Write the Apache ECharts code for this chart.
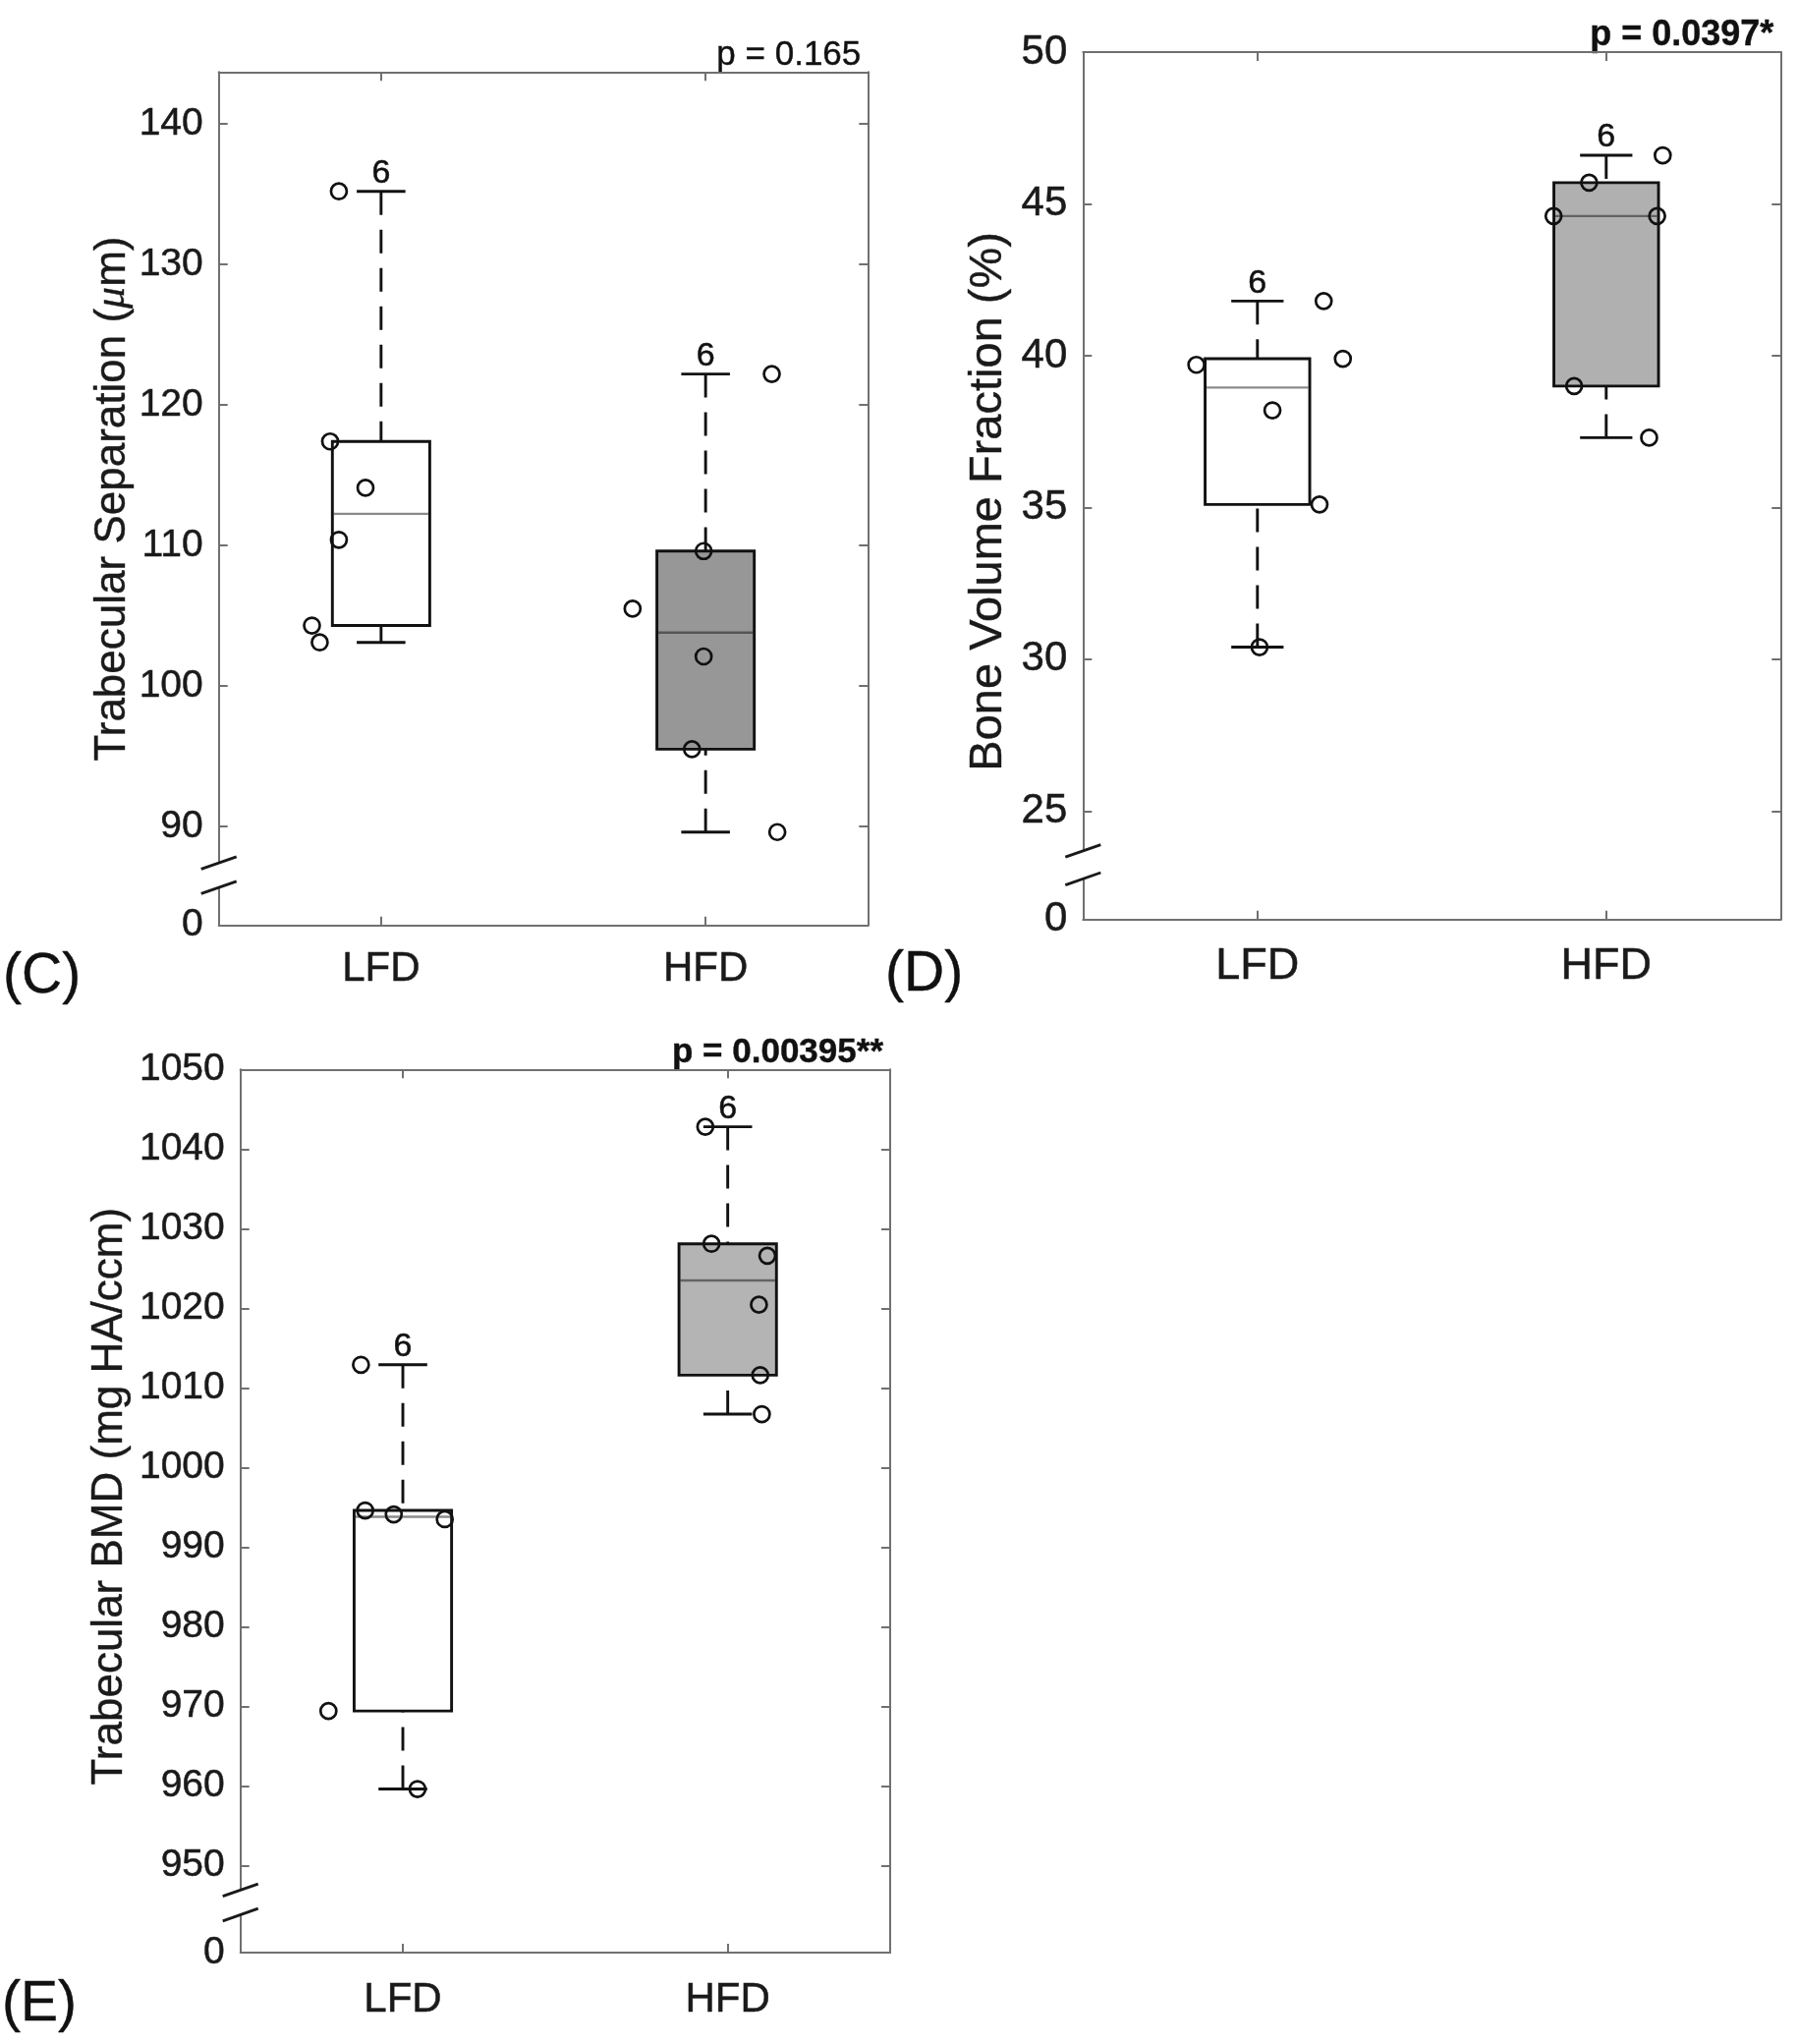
<!DOCTYPE html>
<html>
<head>
<meta charset="utf-8">
<script src="https://cdn.jsdelivr.net/npm/echarts@6/dist/echarts.min.js"></script>
<style>
html,body{margin:0;padding:0;background:#fff;}
#chart{width:1830px;height:2080px;}
</style>
</head>
<body>
<div id="chart"></div>
<script>
// ---------------- DATA ----------------
const categories = ['LFD', 'HFD'];
const groupCounts = [6, 6];

// Panel C : Trabecular Separation (um)
const cLfdValues = [135.2, 117.4, 114.1, 110.4, 104.3, 103.1];
const cLfdJitterX = [0.870, 0.843, 0.952, 0.870, 0.787, 0.811];
const cHfdValues = [122.2, 109.6, 105.5, 102.1, 95.5, 89.6];
const cHfdJitterX = [2.204, 1.994, 1.775, 1.994, 1.958, 2.221];
// [lower whisker, Q1, median, Q3, upper whisker]
const cLfdBox = [103.1, 104.3, 112.25, 117.4, 135.2];
const cHfdBox = [89.6, 95.5, 103.8, 109.6, 122.2];
const cTicks = [90, 100, 110, 120, 130, 140];
const cRange = [82.96, 143.69];
const cBreak = [87.41, 85.66];
const cPText = 'p = 0.165';

// Panel D : Bone Volume Fraction (%)
const dLfdValues = [41.8, 39.9, 39.7, 38.2, 35.1, 30.4];
const dLfdJitterX = [1.190, 1.245, 0.825, 1.043, 1.178, 1.006];
const dHfdValues = [46.6, 45.7, 44.6, 44.6, 39.0, 37.3];
const dHfdJitterX = [2.162, 1.951, 1.849, 2.146, 1.908, 2.123];
const dLfdBox = [30.4, 35.1, 38.95, 39.9, 41.8];
const dHfdBox = [37.3, 39.0, 44.6, 45.7, 46.6];
const dTicks = [25, 30, 35, 40, 45, 50];
const dRange = [21.43, 50];
const dBreak = [23.69, 22.77];
const dPText = 'p = 0.0397*';

// Panel E : Trabecular BMD (mg HA/ccm)
const eLfdValues = [1012.9, 994.6, 994.1, 993.5, 969.4, 959.6];
const eLfdJitterX = [0.871, 0.884, 0.972, 1.129, 0.771, 1.045];
const eHfdValues = [1042.8, 1028.1, 1026.6, 1020.45, 1011.6, 1006.7];
const eHfdJitterX = [1.931, 1.950, 2.122, 2.096, 2.100, 2.105];
const eLfdBox = [959.6, 969.4, 993.8, 994.6, 1012.9];
const eHfdBox = [1006.7, 1011.6, 1023.5, 1028.1, 1042.8];
const eTicks = [950, 960, 970, 980, 990, 1000, 1010, 1020, 1030, 1040, 1050];
const eRange = [939.05, 1050];
const eBreak = [946.9, 943.8];
const ePText = 'p = 0.00395**';

// ---------------- STYLE / LAYOUT ----------------
const FONT = 'Liberation Sans';
const AXIS_COLOR = '#707070';
const TEXT_COLOR = '#1a1a1a';
const BOX_HALF = 0.15;

const panels = [
  {
    tag: '(C)', name: 'Trabecular Separation ({i|μ}m)',
    lfd: cLfdValues, lfdX: cLfdJitterX, hfd: cHfdValues, hfdX: cHfdJitterX,
    boxes: [cLfdBox, cHfdBox], ticks: cTicks, range: cRange, brk: cBreak, p: cPText,
    pFont: '35px', fills: ['#ffffff', '#979797'],
    grid: {left: 222.7, top: 73.3, width: 660.6, height: 868.4},
    nameGap: 86, nameFont: 44, namePad: [0, 0, 0, 0],
    tickFont: 39, xFont: 42, xMargin: 24, tagPos: [3, 994]
  },
  {
    tag: '(D)', name: 'Bone Volume Fraction (%)',
    lfd: dLfdValues, lfdX: dLfdJitterX, hfd: dHfdValues, hfdX: dHfdJitterX,
    boxes: [dLfdBox, dHfdBox], ticks: dTicks, range: dRange, brk: dBreak, p: dPText,
    pFont: 'bold 36px', fills: ['#ffffff', '#b0b0b0'],
    grid: {left: 1102.3, top: 53, width: 710, height: 882.7},
    nameGap: 73, nameFont: 47, namePad: [0, 32, 0, 0],
    tickFont: 42, xFont: 45, xMargin: 25, tagPos: [901, 992]
  },
  {
    tag: '(E)', name: 'Trabecular BMD (mg HA/ccm)',
    lfd: eLfdValues, lfdX: eLfdJitterX, hfd: eHfdValues, hfdX: eHfdJitterX,
    boxes: [eLfdBox, eHfdBox], ticks: eTicks, range: eRange, brk: eBreak, p: ePText,
    pFont: 'bold 35px', fills: ['#ffffff', '#b4b4b4'],
    grid: {left: 244.7, top: 1088.3, width: 661.3, height: 898.7},
    nameGap: 111, nameFont: 44, namePad: [0, 0, 0, 30],
    tickFont: 39, xFont: 42, xMargin: 27, tagPos: [2, 2040]
  }
];

function boxRenderer(fills) {
  return function (params, api) {
    const x = api.value(0), lo = api.value(1), q1 = api.value(2), med = api.value(3),
      q3 = api.value(4), hi = api.value(5), n = api.value(6);
    const idx = params.dataIndex;
    const pTL = api.coord([x - BOX_HALF, q3]);
    const pBR = api.coord([x + BOX_HALF, q1]);
    const cx = api.coord([x, med])[0];
    const yMed = api.coord([x, med])[1];
    const yHi = api.coord([x, hi])[1];
    const yLo = api.coord([x, lo])[1];
    const capL = api.coord([x - BOX_HALF / 2, hi])[0];
    const capR = api.coord([x + BOX_HALF / 2, hi])[0];
    const lw = 2.9;
    return {
      type: 'group',
      children: [
        {type: 'line', shape: {x1: cx, y1: yHi, x2: cx, y2: pTL[1]},
          style: {stroke: '#111', lineWidth: lw, lineDash: [24, 15]}},
        {type: 'line', shape: {x1: cx, y1: yLo, x2: cx, y2: pBR[1]},
          style: {stroke: '#111', lineWidth: lw, lineDash: [24, 15]}},
        {type: 'line', shape: {x1: capL, y1: yHi, x2: capR, y2: yHi},
          style: {stroke: '#111', lineWidth: lw}},
        {type: 'line', shape: {x1: capL, y1: yLo, x2: capR, y2: yLo},
          style: {stroke: '#111', lineWidth: lw}},
        {type: 'rect', shape: {x: pTL[0], y: pTL[1], width: pBR[0] - pTL[0], height: pBR[1] - pTL[1]},
          style: {fill: fills[idx], stroke: '#111', lineWidth: lw}},
        {type: 'line', shape: {x1: pTL[0] + 1.5, y1: yMed, x2: pBR[0] - 1.5, y2: yMed},
          style: {stroke: 'rgba(16,16,16,0.49)', lineWidth: 2.4}},
        {type: 'text', x: cx, y: yHi - 18,
          style: {text: String(n), font: '34px "Liberation Sans"', fill: '#111',
            stroke: '#111', lineWidth: 0.5, align: 'center', verticalAlign: 'middle'}}
      ]
    };
  };
}

function breakRenderer(params, api) {
  const a = api.coord([api.value(0), api.value(1)]);
  const b = api.coord([api.value(0), api.value(2)]);
  const dx = 18, dy = 6.3;
  return {
    type: 'group',
    children: [
      {type: 'rect', shape: {x: a[0] - 4, y: a[1], width: 8, height: b[1] - a[1]}, style: {fill: '#ffffff'}},
      {type: 'line', shape: {x1: a[0] - dx, y1: a[1] + dy, x2: a[0] + dx, y2: a[1] - dy},
        style: {stroke: '#1a1a1a', lineWidth: 2.9}},
      {type: 'line', shape: {x1: b[0] - dx, y1: b[1] + dy, x2: b[0] + dx, y2: b[1] - dy},
        style: {stroke: '#1a1a1a', lineWidth: 2.9}}
    ]
  };
}

const grids = [], xAxes = [], yAxes = [], series = [], graphics = [];

panels.forEach((P, i) => {
  grids.push(Object.assign({}, P.grid));
  const axisLine = {show: true, lineStyle: {color: AXIS_COLOR, width: 2}};
  const catTick = {show: true, alignWithLabel: true, inside: true, length: 9, lineStyle: {color: AXIS_COLOR, width: 2}};
  xAxes.push({
    gridIndex: i, type: 'category', data: categories, position: 'bottom', boundaryGap: true,
    axisLine: axisLine, axisTick: catTick,
    axisLabel: {fontSize: P.xFont, color: TEXT_COLOR, fontFamily: FONT, margin: P.xMargin,
      textBorderColor: TEXT_COLOR, textBorderWidth: 0.5},
    splitLine: {show: false}
  });
  xAxes.push({
    gridIndex: i, type: 'category', data: categories, position: 'top', boundaryGap: true,
    axisLine: axisLine, axisTick: catTick, axisLabel: {show: false}, splitLine: {show: false}
  });
  xAxes.push({gridIndex: i, type: 'value', min: 0.5, max: 2.5, show: false});

  const lo = P.range[0];
  yAxes.push({
    gridIndex: i, type: 'value', position: 'left', min: P.range[0], max: P.range[1],
    axisLine: axisLine,
    axisTick: {show: true, inside: true, length: 9, customValues: P.ticks, lineStyle: {color: AXIS_COLOR, width: 2}},
    axisLabel: {
      customValues: [lo].concat(P.ticks),
      formatter: v => (Math.abs(v - lo) < 1e-6 ? '0' : String(v)),
      fontSize: P.tickFont, color: TEXT_COLOR, fontFamily: FONT, margin: 16,
      textBorderColor: TEXT_COLOR, textBorderWidth: 0.5
    },
    splitLine: {show: false},
    name: P.name, nameLocation: 'middle', nameGap: P.nameGap,
    nameTextStyle: {
      fontSize: P.nameFont, color: TEXT_COLOR, fontFamily: FONT, padding: P.namePad,
      textBorderColor: TEXT_COLOR, textBorderWidth: 0.4,
      rich: {i: {fontSize: P.nameFont, fontStyle: 'italic', fontFamily: 'Liberation Serif', color: TEXT_COLOR,
        textBorderColor: TEXT_COLOR, textBorderWidth: 0.4}}
    }
  });
  yAxes.push({
    gridIndex: i, type: 'value', position: 'right', min: P.range[0], max: P.range[1],
    axisLine: axisLine,
    axisTick: {show: true, inside: true, length: 9, customValues: P.ticks, lineStyle: {color: AXIS_COLOR, width: 2}},
    axisLabel: {show: false}, splitLine: {show: false}
  });

  const xi = 3 * i + 2, yi = 2 * i;
  series.push({
    type: 'custom', xAxisIndex: xi, yAxisIndex: yi, silent: true, z: 3,
    renderItem: boxRenderer(P.fills),
    encode: {x: 0, y: [1, 2, 3, 4, 5]},
    data: P.boxes.map((b, k) => [k + 1].concat(b).concat([groupCounts[k]]))
  });
  const pts = P.lfdX.map((x, k) => [x, P.lfd[k]]).concat(P.hfdX.map((x, k) => [x, P.hfd[k]]));
  series.push({
    type: 'scatter', xAxisIndex: xi, yAxisIndex: yi, silent: true, z: 5,
    symbol: 'circle', symbolSize: 16,
    itemStyle: {color: 'rgba(255,255,255,0)', borderColor: '#111', borderWidth: 2.7, opacity: 1},
    data: pts
  });
  series.push({
    type: 'custom', xAxisIndex: xi, yAxisIndex: yi, silent: true, z: 6,
    renderItem: breakRenderer, encode: {x: 0, y: [1, 2]},
    data: [[0.5, P.brk[0], P.brk[1]]]
  });

  const g = P.grid;
  graphics.push({
    type: 'text', x: g.left + g.width - 7, y: g.top + 1,
    style: {text: P.p, font: P.pFont + ' "Liberation Sans"', fill: '#111',
      stroke: '#111', lineWidth: 0.4,
      textAlign: 'right', textVerticalAlign: 'bottom', align: 'right', verticalAlign: 'bottom'}
  });
  graphics.push({
    type: 'text', x: P.tagPos[0], y: P.tagPos[1],
    style: {text: P.tag, font: '57px "Liberation Sans"', fill: '#111',
      stroke: '#111', lineWidth: 0.4,
      textAlign: 'left', textVerticalAlign: 'middle', align: 'left', verticalAlign: 'middle'}
  });
});

const chart = echarts.init(document.getElementById('chart'), null, {renderer: 'canvas'});
chart.setOption({
  animation: false,
  backgroundColor: '#ffffff',
  grid: grids,
  xAxis: xAxes,
  yAxis: yAxes,
  series: series,
  graphic: graphics
});
</script>
</body>
</html>
